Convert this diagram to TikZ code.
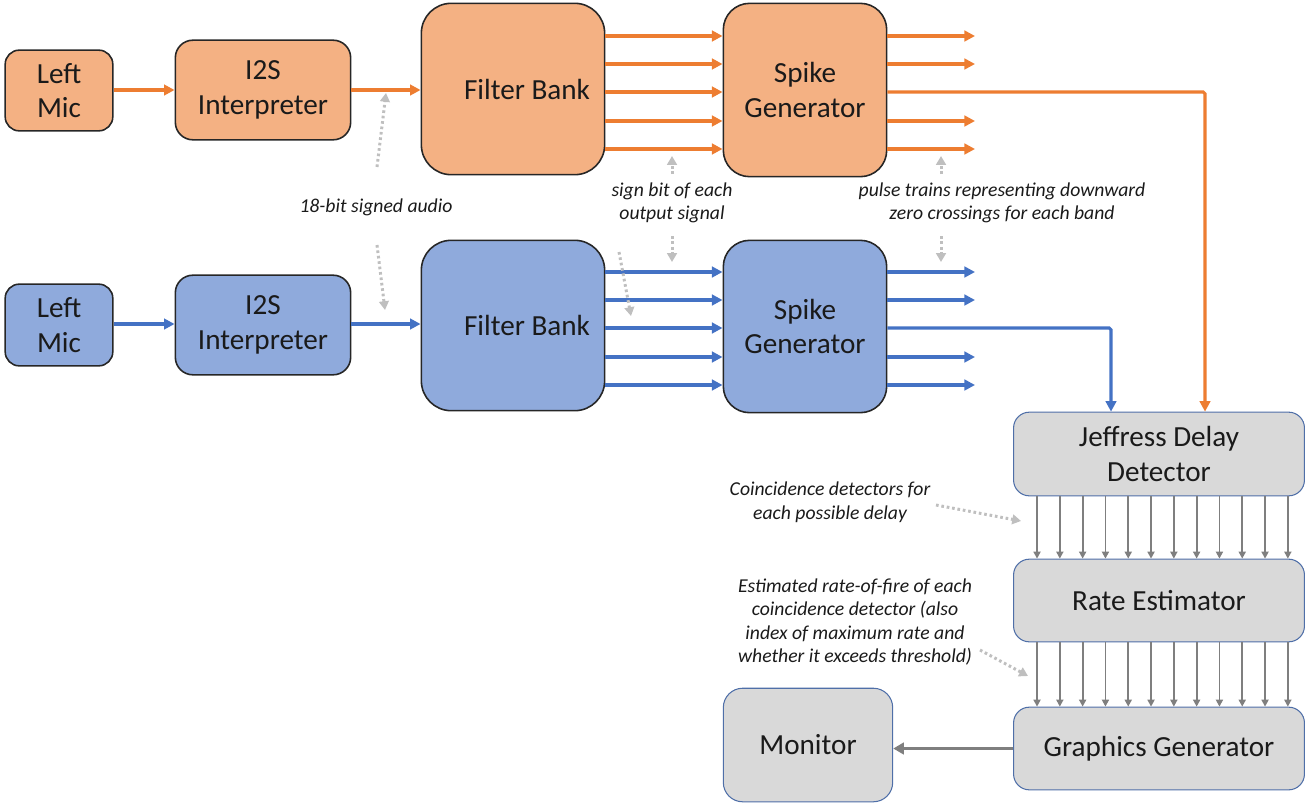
\documentclass[tikz,border=0pt]{standalone}
\usepackage{fontspec}
\setmainfont{Carlito}
\usetikzlibrary{arrows.meta,calc}
\definecolor{orline}{HTML}{ED7D31}
\definecolor{blline}{HTML}{4472C4}
\definecolor{orfill}{HTML}{F4B183}
\definecolor{blfill}{HTML}{8FAADC}
\definecolor{gyfill}{HTML}{D9D9D9}
\definecolor{gyline}{HTML}{7F7F7F}
\definecolor{dotc}{HTML}{BFBFBF}
\definecolor{gyborder}{HTML}{4F6FA8}
\definecolor{txt}{HTML}{1A1A1A}
\begin{document}
\begin{tikzpicture}[x=0.02cm,y=-0.02cm,
  blk/.style={draw=black!85,line width=0.9pt,text=txt,align=center,
    font=\fontsize{16.6}{19.5}\selectfont,inner sep=0pt},
  oblk/.style={blk,fill=orfill},
  bblk/.style={blk,fill=blfill},
  gblk/.style={blk,fill=gyfill,draw=gyborder,line width=0.6pt},
  lbl/.style={text=txt,align=center,font=\fontsize{16.6}{19.5}\selectfont,inner sep=0pt},
  oarr/.style={draw=orline,line width=1.8pt,-{Triangle[length=6pt,width=6pt]}},
  barr/.style={draw=blline,line width=1.8pt,-{Triangle[length=6pt,width=6pt]}},
  garr/.style={draw=gyline,line width=1pt,-{Triangle[length=4pt,width=4pt]}},
  dotarr/.style={draw=dotc,line width=1.7pt,dash pattern=on 1.5pt off 1.6pt,
    -{Triangle[length=5pt,width=5.5pt]}},
  note/.style={align=center,text=txt,font=\fontsize{11.2}{13.4}\selectfont\itshape,inner sep=0pt}]
\useasboundingbox (0,0) rectangle (1314,805);
% orange row
\node[oblk,rounded corners=8pt,minimum width=108*0.567pt,minimum height=81*0.567pt] (omic) at (59,90.5) {Left\\Mic};
\node[oblk,rounded corners=10pt,minimum width=176*0.567pt,minimum height=100*0.567pt] (oi2s) at (263,90) {I2S\\Interpreter};
\node[oblk,rounded corners=17pt,minimum width=184*0.567pt,minimum height=172*0.567pt] (ofb) at (513,89) {};
\node[lbl] (ofbl) at ($(ofb.center)+(14,0)$) {Filter Bank};
\node[oblk,rounded corners=15pt,minimum width=164*0.567pt,minimum height=174*0.567pt] (osg) at (805,90) {Spike\\Generator};
% blue row
\node[bblk,rounded corners=8pt,minimum width=108*0.567pt,minimum height=82*0.567pt] (bmic) at (59,325) {Left\\Mic};
\node[bblk,rounded corners=10pt,minimum width=176*0.567pt,minimum height=100*0.567pt] (bi2s) at (263,325) {I2S\\Interpreter};
\node[bblk,rounded corners=17pt,minimum width=184*0.567pt,minimum height=171*0.567pt] (bfb) at (513,325.5) {};
\node[lbl] (bfbl) at ($(bfb.center)+(14,0)$) {Filter Bank};
\node[bblk,rounded corners=15pt,minimum width=164*0.567pt,minimum height=173*0.567pt] (bsg) at (805,326.5) {Spike\\Generator};
% gray boxes
\node[gblk,rounded corners=9pt,minimum width=292*0.567pt,minimum height=84*0.567pt] (jdd) at (1159,454) {Jeffress Delay\\Detector};
\node[gblk,rounded corners=9pt,minimum width=292*0.567pt,minimum height=83*0.567pt] (rate) at (1159,600.5) {Rate Estimator};
\node[gblk,rounded corners=9pt,minimum width=292*0.567pt,minimum height=83*0.567pt] (gg) at (1159,748.5) {Graphics Generator};
\node[gblk,rounded corners=11pt,minimum width=170*0.567pt,minimum height=114*0.567pt] (mon) at (808,745) {Monitor};
% orange connectors
\draw[oarr] (omic.east |- 0,90) -- (oi2s.west |- 0,90);
\draw[oarr] (oi2s.east |- 0,90) -- (ofb.west |- 0,90);
\foreach \y in {36,64,92,121,149}
  \draw[oarr] (ofb.east |- 0,\y) -- (osg.west |- 0,\y);
\foreach \y in {36,64,121,149}
  \draw[oarr] (osg.east |- 0,\y) -- (975,\y);
\draw[oarr,rounded corners=1pt] (osg.east |- 0,92) -- (1205,92) -- (1205,0 |- jdd.north);
% blue connectors
\draw[barr] (bmic.east |- 0,324) -- (bi2s.west |- 0,324);
\draw[barr] (bi2s.east |- 0,324) -- (bfb.west |- 0,324);
\foreach \y in {272,300,328,357,385}
  \draw[barr] (bfb.east |- 0,\y) -- (bsg.west |- 0,\y);
\foreach \y in {272,300,357,385}
  \draw[barr] (bsg.east |- 0,\y) -- (975,\y);
\draw[barr,rounded corners=1pt] (bsg.east |- 0,328) -- (1111,328) -- (1111,0 |- jdd.north);
% gray bus arrows
\foreach \i in {0,...,11}{
  \draw[garr] ($(jdd.south west)+({24+\i*22.8},0)$) -- ($(rate.north west)+({24+\i*22.8},0)$);
  \draw[garr] ($(rate.south west)+({24+\i*22.8},0)$) -- ($(gg.north west)+({24+\i*22.8},0)$);
}
\draw[draw=gyline,line width=2pt,-{Triangle[length=6pt,width=6.5pt]}] (gg.west) -- (gg.west -| mon.east);
% notes
\node[note] (n1) at (376,207) {18-bit signed audio};
\node[note] (n2) at (672,203) {sign bit of each\\output signal};
\node[note] (n3) at (1002,203) {pulse trains representing downward\\zero crossings for each band};
\node[note] (n4) at (830,502) {Coincidence detectors for\\each possible delay};
\node[note] (n5) at (855,622) {Estimated rate-of-fire of each\\coincidence detector (also\\index of maximum rate and\\whether it exceeds threshold)};
% dotted pointers
\coordinate (d1a) at (377,167); \coordinate (d1b) at (386,93);
\coordinate (d2a) at (377,245); \coordinate (d2b) at (385,310);
\draw[dotarr] (d1a) -- (d1b);
\draw[dotarr] (d2a) -- (d2b);
\coordinate (d3a) at (672,174); \coordinate (d3b) at (672,156);
\coordinate (d4a) at (672,236); \coordinate (d4b) at (672,262);
\draw[dotarr] (d3a) -- (d3b);
\draw[dotarr] (d4a) -- (d4b);
\coordinate (d5a) at (619,252); \coordinate (d5b) at (631,316);
\draw[dotarr] (d5a) -- (d5b);
\coordinate (d6a) at (941,174); \coordinate (d6b) at (941,156);
\coordinate (d7a) at (941,236); \coordinate (d7b) at (941,262);
\draw[dotarr] (d6a) -- (d6b);
\draw[dotarr] (d7a) -- (d7b);
\coordinate (d8a) at (936,505); \coordinate (d8b) at (1021,521);
\draw[dotarr] (d8a) -- (d8b);
\coordinate (d9a) at (980,650); \coordinate (d9b) at (1028,676);
\draw[dotarr] (d9a) -- (d9b);
\end{tikzpicture}
\end{document}
